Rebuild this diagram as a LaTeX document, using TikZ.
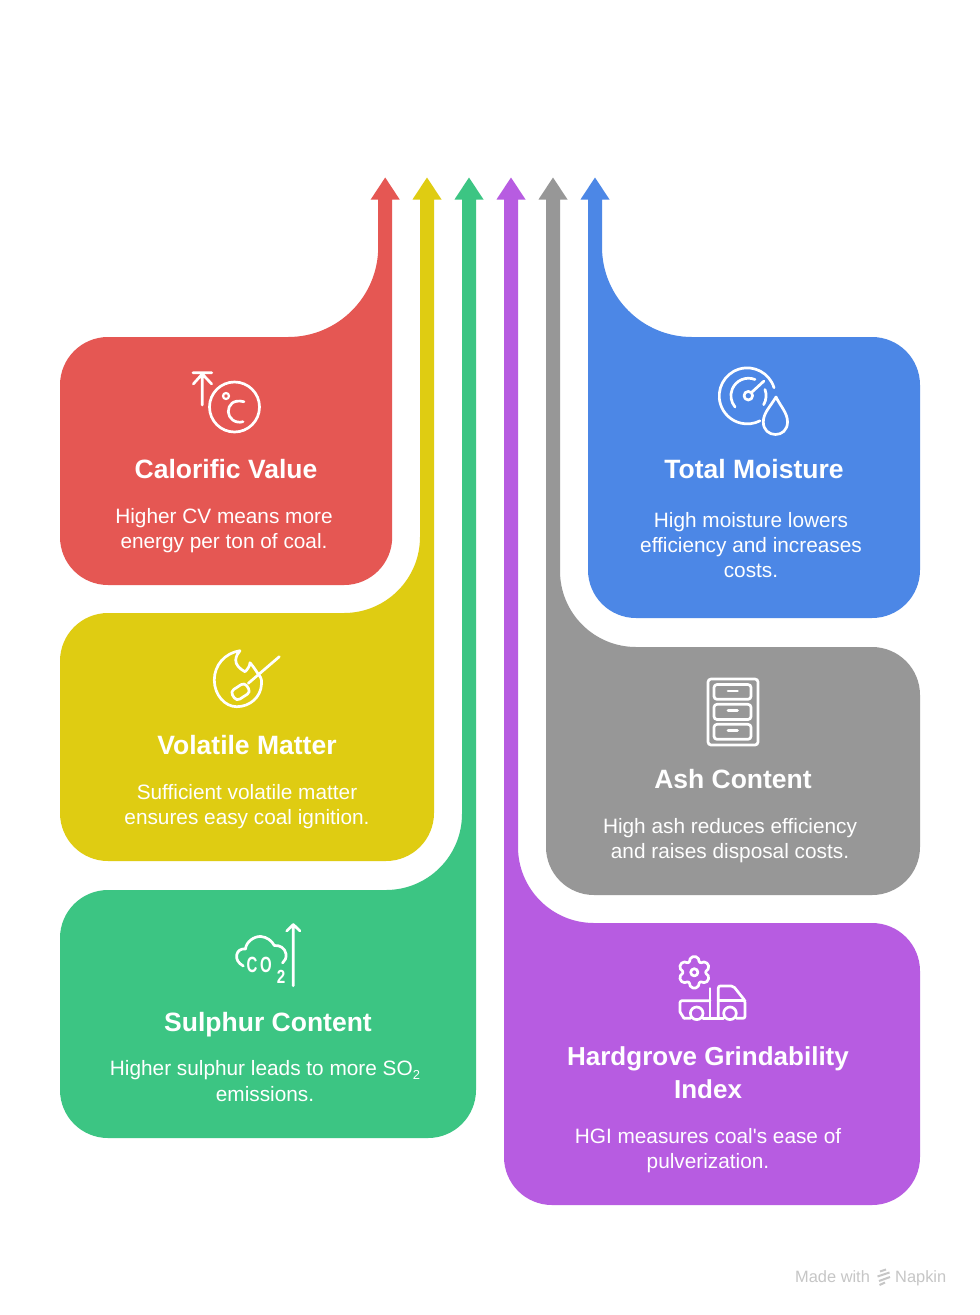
\documentclass[tikz,border=0pt]{standalone}
\usepackage{fontspec}
\setmainfont{Liberation Sans}[Ligatures=TeXOff]
\definecolor{cred}{HTML}{E55753}
\definecolor{cyellow}{HTML}{DFCC12}
\definecolor{cgreen}{HTML}{3CC583}
\definecolor{cpurple}{HTML}{B75CE1}
\definecolor{cgrey}{HTML}{979797}
\definecolor{cblue}{HTML}{4C87E6}
\definecolor{cfoot}{HTML}{C6C6C6}
% #1 colour, #2 arrow centre x, #3 top, #4 bottom, #5 radius of the big curve
\newcommand{\leftshape}[5]{%
  \fill[#1] (108,#3) -- ({#2-7-#5},#3) arc[start angle=90,end angle=0,radius=#5]
    -- ({#2-7},199.5) -- ({#2-14.5},199.5) -- (#2,177.5) -- ({#2+14.5},199.5) -- ({#2+7},199.5)
    -- ({#2+7},{#4-48}) arc[start angle=0,end angle=90,radius=48]
    -- (108,#4) arc[start angle=90,end angle=180,radius=48]
    -- (60,{#3+48}) arc[start angle=180,end angle=270,radius=48] -- cycle;}
\newcommand{\rightshape}[5]{%
  \fill[#1] (872,#3) -- ({#2+7+#5},#3) arc[start angle=90,end angle=180,radius=#5]
    -- ({#2+7},199.5) -- ({#2+14.5},199.5) -- (#2,177.5) -- ({#2-14.5},199.5) -- ({#2-7},199.5)
    -- ({#2-7},{#4-48}) arc[start angle=180,end angle=90,radius=48]
    -- (872,#4) arc[start angle=90,end angle=0,radius=48]
    -- (920,{#3+48}) arc[start angle=0,end angle=-90,radius=48] -- cycle;}
\tikzset{
  ttl/.style={text=white,align=center,inner sep=0pt,font=\fontsize{26.5}{33}\selectfont\bfseries},
  bodytxt/.style={text=white,align=center,inner sep=0pt,font=\fontsize{20.8}{25.3}\selectfont},
  ico/.style={draw=white,line width=2.7pt,line cap=round,line join=round},
  icotxt/.style={text=white,inner sep=0pt,font=\fontsize{22}{22}\selectfont\bfseries},
  foot/.style={text=cfoot,inner sep=0pt,font=\fontsize{16.4}{19}\selectfont}
}
\begin{document}
\begin{tikzpicture}[yscale=-1,x=1pt,y=1pt]
\useasboundingbox (0,0) rectangle (980,1315);
\fill[white] (0,0) rectangle (980,1315);
\leftshape{cred}{385.2}{337}{585}{90}
\leftshape{cyellow}{427}{613}{861}{76}
\leftshape{cgreen}{469}{890}{1138}{76}
\rightshape{cblue}{595}{337}{618}{90}
\rightshape{cgrey}{553}{647}{895}{76}
\rightshape{cpurple}{511}{923}{1205}{76}

\node[ttl] (t1) at (226,469) {Calorific Value};
\node[bodytxt] (b1) at (224,530.5) {Higher CV means more\\energy per ton of coal.};
\node[ttl] (t2) at (247,745) {Volatile Matter};
\node[bodytxt] (b2) at (247,806.5) {Sufficient volatile matter\\ensures easy coal ignition.};
\node[ttl] (t3) at (268,1025) {Sulphur Content};
\node[bodytxt] (b3) at (265,1081) {Higher sulphur leads to more SO\raisebox{-0.2em}{\fontsize{13}{13}\selectfont 2}\\emissions.};
\node[ttl] (t4) at (754,469) {Total Moisture};
\node[bodytxt] (b4) at (751,545) {High moisture lowers\\efficiency and increases\\costs.};
\node[ttl] (t5) at (733,779) {Ash Content};
\node[bodytxt] (b5) at (730,840.5) {High ash reduces efficiency\\and raises disposal costs.};
\node[ttl,font=\fontsize{26}{33.5}\selectfont\bfseries] (t6) at (708,1072.5) {Hardgrove Grindability\\Index};
\node[bodytxt] (b6) at (708,1150.5) {HGI measures coal's ease of\\pulverization.};

% calorific icon
\draw[ico] (234.5,407) circle[radius=25];
\draw[ico,line width=2.2pt] (226,396) circle[radius=3];
\draw[ico] (244,401.7) .. controls (233,399) and (228.3,405) .. (228.3,411.7) .. controls (228.3,418) and (235,424) .. (243,421.7);
\draw[ico] (193,372.7) -- (211.7,372.7) (202.3,373) -- (202.3,405) (193.3,384) -- (202.3,374) -- (211.7,384);

% moisture icon
\draw[ico] (774,387.7) arc[start angle=-17,end angle=-297,radius=28];
\draw[ico] (755,379.5) arc[start angle=-68,end angle=-220,radius=17.5];
\draw[ico] (765,389.5) arc[start angle=-20,end angle=30,radius=18];
\draw[ico] (748.3,395.7) circle[radius=4.3];
\draw[ico] (751.7,392.3) -- (764,381);
\draw[ico] (776,397) .. controls (770,407) and (763.3,413) .. (763.3,422) .. controls (763.3,430) and (769,434.5) .. (775.5,434.5) .. controls (782,434.5) and (787.5,430) .. (787.5,422) .. controls (787.5,413) and (781,407) .. (776,397) -- cycle;

% volatile icon
\draw[ico] (240,650.7) .. controls (225,653) and (214.3,665) .. (214.3,680) .. controls (214.3,695) and (225,706.7) .. (236.7,706.7) .. controls (250,706.7) and (261,697) .. (261.5,684) .. controls (262,678) and (260,676) .. (257.5,673) .. controls (255,669) and (252,665) .. (250,662.7) .. controls (250,666) and (247,670) .. (245,671.7) .. controls (240,669) and (235.5,665) .. (235.7,660) .. controls (236,656) and (238,653) .. (240,650.7) -- cycle;
\draw[ico] (279.3,656.7) -- (248.3,683.3);
\draw[ico,rotate around={-33:(240.7,691.7)},rounded corners=4] (232,686) rectangle (249,697.4);

% ash icon
\draw[ico,rounded corners=3] (708,679) rectangle (758,745);
\draw[ico,rounded corners=3] (714,684.5) rectangle (751,699.3);
\draw[ico,rounded corners=3] (714,704.3) rectangle (751,719.5);
\draw[ico,rounded corners=3] (714,724.3) rectangle (751,739.3);
\draw[ico] (728,691) -- (737.5,691) (728,710.7) -- (737.5,710.7) (728,730.5) -- (737.5,730.5);

% sulphur icon
\draw[ico] (293.3,924.5) -- (293.3,985.7) (286.7,931) -- (293.3,924.5) -- (300,931);
\draw[ico] (243.3,966) .. controls (238,963) and (236,959) .. (236.7,955) .. controls (237.5,950.5) and (241,948.5) .. (245.5,949) .. controls (246,942) and (254,936) .. (261,936.5) .. controls (267,937) and (272,941) .. (274.3,945.5) .. controls (280,945) and (285,948) .. (286,954) .. controls (286.5,958) and (285,961) .. (282.5,963);
\node[icotxt] (co1) at (252,964.5) {\scalebox{0.68}[1]{C}};
\node[icotxt] (co2) at (266,964.5) {\scalebox{0.68}[1]{O}};
\node[icotxt,font=\fontsize{19}{19}\selectfont\bfseries] (co3) at (281,977) {\scalebox{0.8}[1]{2}};

% hardgrove icon
\begin{scope}[shift={(694.3,972.3)}]
\draw[ico,rounded corners=2] (-103:16) -- (-77:16) -- (-60:10.5) -- (-43:16) -- (-17:16) -- (0:10.5) -- (17:16) -- (43:16) -- (60:10.5) -- (77:16) -- (103:16) -- (120:10.5) -- (137:16) -- (163:16) -- (180:10.5) -- (197:16) -- (223:16) -- (240:10.5) -- cycle;
\draw[ico] (0,0) circle[radius=3.6];
\end{scope}
\draw[ico,rounded corners=2] (710,1000.7) -- (680,1000.7) -- (680,1012) (684,1018.3) -- (690.5,1018.3);
\draw[ico] (680,1012) -- (684,1018.3);
\draw[ico] (710,988.5) -- (710,1018.3) (703,1018.3) -- (723.5,1018.3);
\draw[ico,rounded corners=2] (718.3,1018.3) -- (718.3,986) -- (733.3,986) -- (745,1000.7) -- (745,1018.3) -- (736.5,1018.3);
\draw[ico] (718.3,1000.7) -- (745,1000.7);
\draw[ico] (696.7,1013.3) circle[radius=6.3];
\draw[ico] (730,1013.3) circle[radius=6.3];

% footer
\node[foot,anchor=base west] (f1) at (795,1282) {Made with};
\node[foot,anchor=base west] (f2) at (895,1282) {Napkin};
\draw[cfoot,line width=2pt] (880,1271.5) -- (886,1269.5) (877.5,1276.5) -- (889.5,1272.5) (879,1281) -- (890,1277) (879.5,1285) -- (885,1282.5);
\end{tikzpicture}
\end{document}
